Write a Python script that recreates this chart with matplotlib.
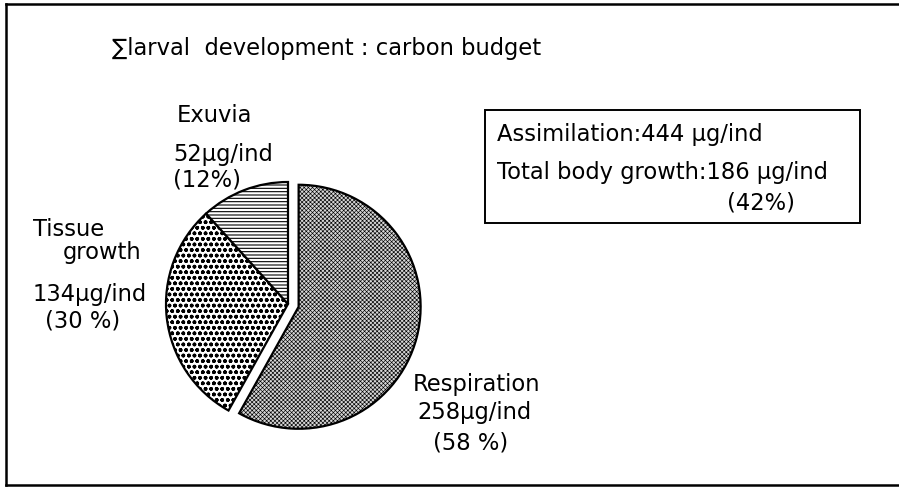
import matplotlib
matplotlib.use("Agg")
import matplotlib.pyplot as plt
from matplotlib.lines import Line2D

W, H = 899, 489
DPI = 100

labels = ["Respiration", "Tissue growth", "Exuvia"]
values = [258, 134, 52]           # µg C / ind
percents = [58, 30, 12]
explode = [0.09, 0, 0]
assimilation = 444
body_growth = 186
body_growth_pct = 42

plt.rcParams['font.family'] = ['DejaVu Sans']
plt.rcParams['hatch.linewidth'] = 0.5

fig = plt.figure(figsize=(W / DPI, H / DPI), dpi=DPI)

# overlay axes in pixel coordinates (origin top-left)
bg = fig.add_axes([0, 0, 1, 1])
bg.set_xlim(0, W)
bg.set_ylim(H, 0)
bg.axis('off')

# frame (top, left, bottom; no right edge in the original)
for xs, ys in [((6, W), (5, 5)), ((6, 6), (5, 486)), ((6, W), (486, 486))]:
    bg.add_line(Line2D(xs, ys, color='black', lw=1.8))

# pie axes: centre at (288, 305) px, radius 122 px
cx, cy, r = 288, 305, 122
ax = fig.add_axes([(cx - r) / W, (H - cy - r) / H, 2 * r / W, 2 * r / H])
wedges, _ = ax.pie(values, explode=explode, startangle=90, counterclock=False,
                   wedgeprops=dict(edgecolor='black', linewidth=1.6))
ax.set_xlim(-1, 1)
ax.set_ylim(-1, 1)
ax.set_aspect('equal')
ax.axis('off')

styles = [('#d6d6d6', 'xxxxxxxx', 0.45), ('white', 'ooo', 1.1), ('white', '-----', 0.8)]
for w, (fc, hatch, hlw) in zip(wedges, styles):
    w.set_facecolor(fc)
    w.set_hatch(hatch)
    if hasattr(w, 'set_hatch_linewidth'):
        w.set_hatch_linewidth(hlw)

fs = 16.3
bg.text(112, 48, "\u2211larval  development : carbon budget", fontsize=16.3,
        ha='left', va='center')

bg.text(177, 116, labels[2], fontsize=fs, ha='left', va='center')
bg.text(173, 154, f"{values[2]}µg/ind", fontsize=fs, ha='left', va='center')
bg.text(173, 180, f"({percents[2]}%)", fontsize=fs, ha='left', va='center')

bg.text(33, 229, "Tissue", fontsize=fs, ha='left', va='center')
bg.text(63, 253, "growth", fontsize=fs, ha='left', va='center')
bg.text(33, 295, f"{values[1]}µg/ind", fontsize=fs, ha='left', va='center')
bg.text(45, 321, f"({percents[1]} %)", fontsize=fs, ha='left', va='center')

bg.text(413, 385, labels[0], fontsize=fs, ha='left', va='center')
bg.text(417, 412, f"{values[0]}µg/ind", fontsize=fs, ha='left', va='center')
bg.text(433, 443, f"({percents[0]} %)", fontsize=fs, ha='left', va='center')

# summary box
bg.add_patch(plt.Rectangle((485, 111), 375, 113, fill=False, edgecolor='black', lw=1.4))
bg.text(497, 135, f"Assimilation:{assimilation} µg/ind", fontsize=fs, ha='left', va='center')
bg.text(497, 172, f"Total body growth:{body_growth} µg/ind", fontsize=fs, ha='left', va='center')
bg.text(727, 203, f"({body_growth_pct}%)", fontsize=fs, ha='left', va='center')

fig.savefig("out.png", dpi=DPI)
